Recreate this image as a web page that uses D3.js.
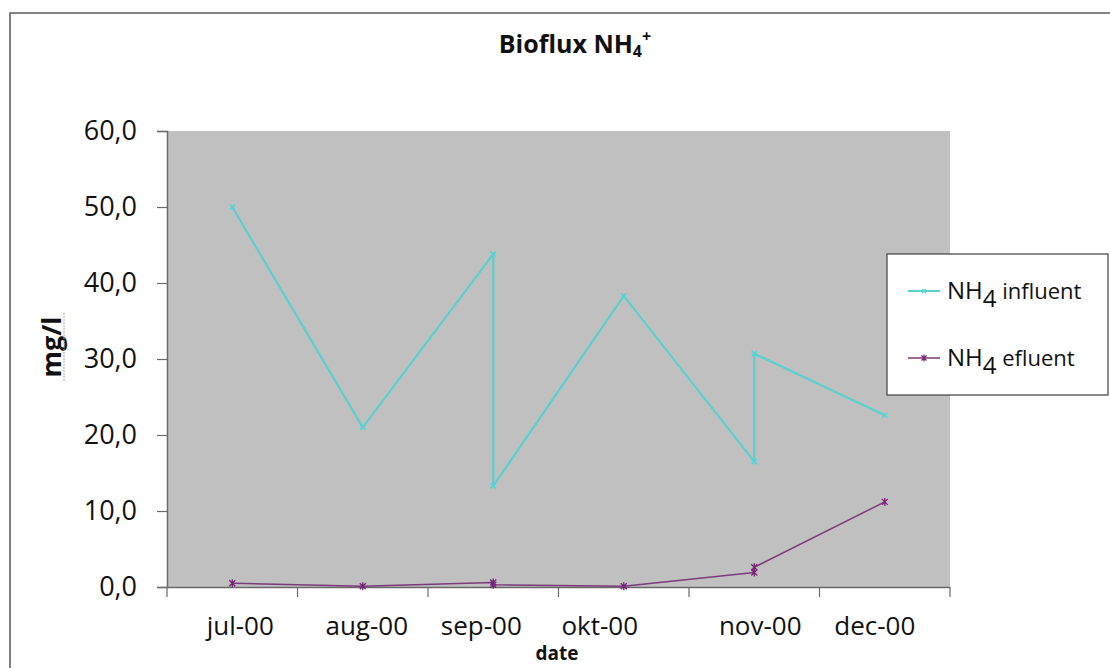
<!DOCTYPE html>
<html>
<head>
<meta charset="utf-8">
<script src="https://cdn.jsdelivr.net/npm/d3@7"></script>
<style>
  html, body { margin: 0; padding: 0; background: #fff; }
  svg { display: block; font-family: "Open Sans", "Noto Sans", sans-serif; }
</style>
</head>
<body>
<svg id="chart" width="1110" height="668"></svg>
<script>
// ---- data ----
const months = ["jul-00", "aug-00", "sep-00", "okt-00", "nov-00", "dec-00"];
const influentMonths = ["jul-00", "aug-00", "sep-00", "sep-00", "okt-00", "nov-00", "nov-00", "dec-00"];
const influentValues = [50.0, 21.0, 43.8, 13.3, 38.3, 16.5, 30.7, 22.6];
const efluentMonths = ["jul-00", "aug-00", "sep-00", "sep-00", "okt-00", "nov-00", "nov-00", "dec-00"];
const efluentValues = [0.5, 0.1, 0.6, 0.3, 0.1, 1.9, 2.6, 11.2];
const yTicks = [0, 10, 20, 30, 40, 50, 60];
const seriesNames = ["influent", "efluent"];

// ---- layout ----
const svg = d3.select("#chart");
const plot = { left: 167, right: 950, top: 131, bottom: 587 };
const colInfluent = "#5ccfcf";
const colEfluent = "#7b3a7b";
const markEfluent = "#7a1f7a";

// outer chart border
svg.append("rect").attr("x", 10).attr("y", 13).attr("width", 1120).attr("height", 700)
  .attr("fill", "#fff").attr("stroke", "#5a5a5a").attr("stroke-width", 1.5);

const x = d3.scaleBand().domain(months).range([plot.left, plot.right]).paddingInner(0).paddingOuter(0);
const y = d3.scaleLinear().domain([0, 60]).range([plot.bottom, plot.top]);
const cx = m => x(m) + x.bandwidth() / 2;

// plot area
svg.append("rect").attr("x", plot.left).attr("y", plot.top)
  .attr("width", plot.right - plot.left).attr("height", plot.bottom - plot.top)
  .attr("fill", "#c0c0c0");

// y axis
const fmt = v => d3.format(".1f")(v).replace(".", ",");
const yAxis = svg.append("g").attr("transform", `translate(${plot.left},0)`)
  .call(d3.axisLeft(y).tickValues(yTicks).tickFormat(fmt).tickSize(10).tickPadding(20));
yAxis.select(".domain").attr("stroke", "#6a6a6a").attr("stroke-width", 1.5);
yAxis.selectAll(".tick line").attr("stroke", "#6a6a6a").attr("stroke-width", 1.2);
yAxis.selectAll(".tick text").attr("font-size", 27).attr("fill", "#111")
  .attr("font-family", "'Open Sans', sans-serif");

// x axis (labels at category centres, ticks at category boundaries)
const xAxis = svg.append("g").attr("transform", `translate(0,${plot.bottom})`)
  .call(d3.axisBottom(x).tickSize(0).tickPadding(30));
xAxis.select(".domain").attr("stroke", "#6a6a6a").attr("stroke-width", 1.5);
const labelNudge = { "jul-00": 8, "aug-00": 4, "sep-00": -12, "okt-00": -24, "nov-00": 6, "dec-00": -10 };
xAxis.selectAll(".tick text").attr("font-size", 26).attr("fill", "#111")
  .attr("font-family", "'Open Sans', sans-serif")
  .attr("dx", d => labelNudge[d] || 0);
const bounds = months.map(m => x(m)).concat([plot.right]);
svg.append("g").selectAll("line").data(bounds).join("line")
  .attr("x1", d => d).attr("x2", d => d)
  .attr("y1", plot.bottom).attr("y2", plot.bottom + 10)
  .attr("stroke", "#6a6a6a").attr("stroke-width", 1.2);

// axis titles
svg.append("text").attr("x", 557).attr("y", 660).attr("text-anchor", "middle")
  .attr("font-size", 19).attr("font-weight", "bold").attr("fill", "#111").text("date");
svg.append("text").attr("transform", "translate(61,347) rotate(-90)").attr("text-anchor", "middle")
  .attr("font-size", 27).attr("font-weight", "bold").attr("fill", "#111").text("mg/l");
svg.append("line").attr("x1", 64).attr("x2", 64).attr("y1", 313).attr("y2", 381)
  .attr("stroke", "#8fbf8f").attr("stroke-width", 1).attr("stroke-dasharray", "2,1");

// title
const title = svg.append("text").attr("x", 575).attr("y", 53).attr("text-anchor", "middle")
  .attr("font-size", 25).attr("font-weight", "bold").attr("fill", "#111");
title.append("tspan").text("Bioflux NH");
title.append("tspan").attr("font-size", 16).attr("dy", 4).text("4");
title.append("tspan").attr("font-size", 16).attr("dy", -15).text("+");

// lines
const line = d3.line().x(d => cx(d.m)).y(d => y(d.v));
const influent = influentValues.map((v, i) => ({ m: influentMonths[i], v }));
const efluent = efluentValues.map((v, i) => ({ m: efluentMonths[i], v }));

svg.append("path").datum(influent).attr("d", line).attr("fill", "none")
  .attr("stroke", colInfluent).attr("stroke-width", 2.2).attr("stroke-linejoin", "round");
svg.append("path").datum(efluent).attr("d", line).attr("fill", "none")
  .attr("stroke", colEfluent).attr("stroke-width", 1.5).attr("stroke-linejoin", "round");

// markers
function xMark(g, px, py, s, col, w) {
  g.append("path").attr("d", `M${px - s},${py - s}L${px + s},${py + s}M${px - s},${py + s}L${px + s},${py - s}`)
    .attr("stroke", col).attr("stroke-width", w).attr("fill", "none");
}
function starMark(g, px, py, s, col, w) {
  g.append("path").attr("d", `M${px - s},${py - s}L${px + s},${py + s}M${px - s},${py + s}L${px + s},${py - s}M${px},${py - s - 1}L${px},${py + s + 1}`)
    .attr("stroke", col).attr("stroke-width", w).attr("fill", "none");
}
const mk = svg.append("g");
influent.forEach(d => xMark(mk, cx(d.m), y(d.v), 2.5, "#4fd6d6", 1.6));
efluent.forEach(d => starMark(mk, cx(d.m), y(d.v), 3, markEfluent, 1.3));

// legend
const lg = svg.append("g");
lg.append("rect").attr("x", 887).attr("y", 254).attr("width", 221).attr("height", 141)
  .attr("fill", "#fff").attr("stroke", "#404040").attr("stroke-width", 1.2);
const legendRows = [
  { name: seriesNames[0], yy: 291, col: colInfluent, w: 2, marker: "x" },
  { name: seriesNames[1], yy: 358, col: colEfluent, w: 1.5, marker: "star" }
];
legendRows.forEach(r => {
  lg.append("line").attr("x1", 908).attr("x2", 940).attr("y1", r.yy).attr("y2", r.yy)
    .attr("stroke", r.col).attr("stroke-width", r.w);
  if (r.marker === "x") xMark(lg, 924, r.yy, 2, "#4fd6d6", 1.4);
  else starMark(lg, 924, r.yy, 2.5, markEfluent, 1.2);
  const t = lg.append("text").attr("x", 947).attr("y", r.yy + 8).attr("fill", "#111")
    .attr("font-size", 24);
  t.append("tspan").text("NH");
  t.append("tspan").attr("dy", 8).text("4");
  t.append("tspan").attr("dy", -8).attr("font-size", 22).text(" " + r.name);
});
</script>
</body>
</html>
